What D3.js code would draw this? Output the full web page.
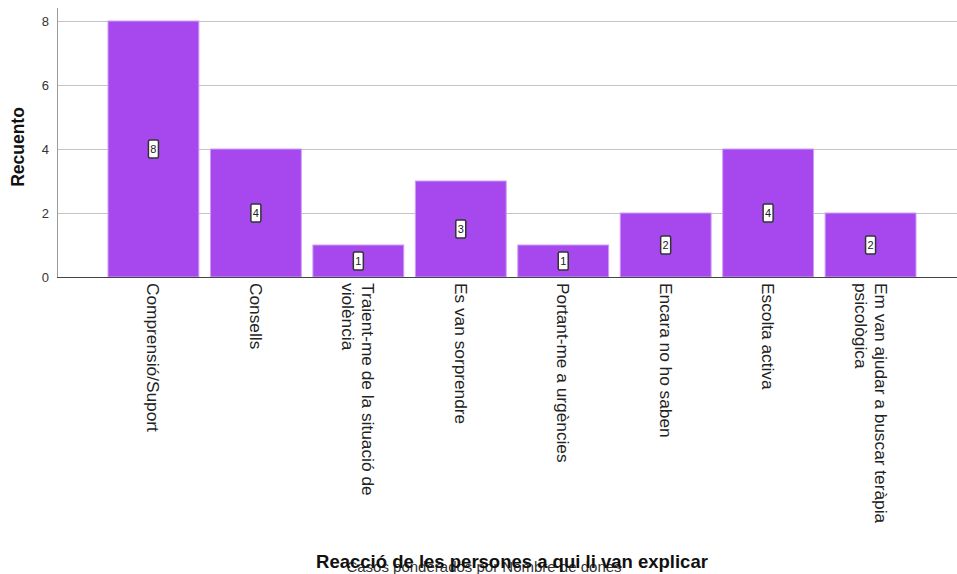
<!DOCTYPE html>
<html>
<head>
<meta charset="utf-8">
<script src="https://cdn.jsdelivr.net/npm/d3@7"></script>
<style>
  html, body { margin: 0; padding: 0; background: #fff; }
  svg { display: block; font-family: "Liberation Sans", Arial, sans-serif; }
</style>
</head>
<body>
<svg id="chart" width="957" height="574"></svg>
<script>
// Reaction categories and counts
const categories = [
  "Comprensió/Suport",
  "Consells",
  "Traient-me de la situació de violència",
  "Es van sorprendre",
  "Portant-me a urgències",
  "Encara no ho saben",
  "Escolta activa",
  "Em van ajudar a buscar teràpia psicològica"
];
const counts = [8, 4, 1, 3, 1, 2, 4, 2];
const yTicks = [0, 2, 4, 6, 8];

const yTitle = "Recuento";
const xTitle = "Reacció de les persones a qui li van explicar";
const weightNote = "Casos ponderados por Nombre de dones";

const svg = d3.select("#chart");
const W = 957;

const axisX = 57, plotTop = 8, plotBottom = 277;

const x = d3.scaleBand()
  .domain(categories)
  .range([108, 916])
  .paddingInner(0.113)
  .paddingOuter(0);

const y = d3.scaleLinear()
  .domain([0, 8])
  .range([plotBottom, 21]);

// Gridlines
svg.append("g")
  .selectAll("line")
  .data(yTicks.filter(d => d !== 0))
  .join("line")
  .attr("x1", axisX).attr("x2", W)
  .attr("y1", d => Math.round(y(d)) + 0.5)
  .attr("y2", d => Math.round(y(d)) + 0.5)
  .attr("stroke", "#c4c4c4")
  .attr("stroke-width", 1);

// Y axis
const yAxis = d3.axisLeft(y).tickValues(yTicks).tickSize(0).tickPadding(8).tickFormat(d3.format("d"));
const gy = svg.append("g").attr("transform", `translate(${axisX},0)`).call(yAxis);
gy.select(".domain").remove();
gy.selectAll("text").attr("font-size", 13).attr("fill", "#333").attr("font-family", "Liberation Sans, Arial, sans-serif");
svg.append("line")
  .attr("x1", axisX + 0.5).attr("x2", axisX + 0.5)
  .attr("y1", plotTop).attr("y2", plotBottom)
  .attr("stroke", "#9a9a9a");

// Bars
svg.append("g")
  .selectAll("rect")
  .data(categories)
  .join("rect")
  .attr("x", d => x(d))
  .attr("y", (d, i) => y(counts[i]))
  .attr("width", x.bandwidth())
  .attr("height", (d, i) => y(0) - y(counts[i]))
  .attr("fill", "#a748ef")
  .attr("stroke", "#cf9cf7")
  .attr("stroke-width", 1);

// Baseline
svg.append("line")
  .attr("x1", axisX).attr("x2", W)
  .attr("y1", plotBottom + 0.5).attr("y2", plotBottom + 0.5)
  .attr("stroke", "#444").attr("stroke-width", 1.2);

// Value labels in boxes at mid-height
const lab = svg.append("g")
  .selectAll("g")
  .data(categories)
  .join("g")
  .attr("transform", (d, i) => `translate(${x(d) + x.bandwidth() / 2},${y(counts[i] / 2)})`);
lab.append("rect")
  .attr("x", -5).attr("y", -9)
  .attr("width", 10).attr("height", 18)
  .attr("rx", 1.5)
  .attr("fill", "#fff")
  .attr("stroke", "#333")
  .attr("stroke-width", 1.5);
lab.append("text")
  .attr("text-anchor", "middle")
  .attr("dy", "0.36em")
  .attr("font-size", 11)
  .attr("fill", "#222")
  .text((d, i) => counts[i]);

// Category labels, rotated and wrapped
const catFont = 17.3;
const maxLen = 255;
const lineH = 20;
const catG = svg.append("g");
categories.forEach(cat => {
  const words = cat.split(" ");
  const lines = [];
  const probe = catG.append("text").attr("font-size", catFont);
  let cur = "";
  words.forEach(w => {
    const test = cur ? cur + " " + w : w;
    probe.text(test);
    if (probe.node().getComputedTextLength() > maxLen && cur) {
      lines.push(cur);
      cur = w;
    } else {
      cur = test;
    }
  });
  lines.push(cur);
  probe.remove();
  const cx = x(cat) + x.bandwidth() / 2;
  const t = catG.append("text")
    .attr("transform", `translate(${cx},283) rotate(90)`)
    .attr("font-size", catFont)
    .attr("fill", "#222");
  const n = lines.length;
  lines.forEach((ln, k) => {
    // rotated clockwise: later lines sit further left
    const off = (k - (n - 1) / 2) * lineH;
    t.append("tspan")
      .attr("x", 0)
      .attr("y", off)
      .attr("dy", "0.35em")
      .text(ln);
  });
});

// Axis titles
svg.append("text")
  .attr("transform", `translate(24,147) rotate(-90)`)
  .attr("text-anchor", "middle")
  .attr("font-size", 17.5)
  .attr("font-weight", "bold")
  .attr("fill", "#111")
  .text(yTitle);

svg.append("text")
  .attr("x", 484).attr("y", 572)
  .attr("text-anchor", "middle")
  .attr("font-size", 15)
  .attr("fill", "#333")
  .text(weightNote);

svg.append("text")
  .attr("x", 512).attr("y", 568)
  .attr("text-anchor", "middle")
  .attr("font-size", 18.5)
  .attr("font-weight", "bold")
  .attr("fill", "#111")
  .text(xTitle);
</script>
</body>
</html>
